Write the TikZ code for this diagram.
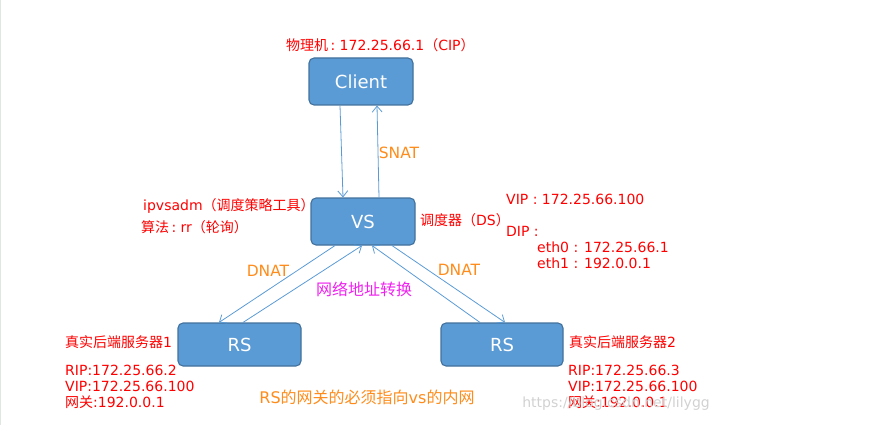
\documentclass[tikz,border=0pt]{standalone}
\usepackage{fontspec}
\setmainfont{DejaVu Sans}
\newfontfamily\cj{Noto Sans CJK SC}
\usetikzlibrary{arrows.meta}
\definecolor{boxfill}{HTML}{5B9BD5}
\definecolor{boxline}{HTML}{41719C}
\definecolor{lnk}{HTML}{5B9BD5}
\definecolor{redt}{HTML}{FF0000}
\definecolor{oranget}{HTML}{FF8C1A}
\definecolor{magt}{HTML}{EE22EE}
\tikzset{
  server/.style={draw=boxline, fill=boxfill, line width=1.1pt, rounded corners=5pt,
    text=white, font=\fontsize{18}{20}\selectfont, inner sep=0pt},
  link/.style={draw=lnk, line width=0.8pt, -{Straight Barb[length=6pt,width=10pt,line width=0.8pt]}},
  redlbl/.style={text=redt, font=\fontsize{14}{16}\selectfont, anchor=base west, inner sep=0pt},
  orglbl/.style={text=oranget, font=\fontsize{15.5}{17}\selectfont, inner sep=0pt},
  maglbl/.style={text=magt, font=\fontsize{16}{18}\selectfont, inner sep=0pt},
  wmark/.style={text=black!18, font=\fontsize{14}{16}\selectfont, inner sep=0pt}
}
\begin{document}
\begin{tikzpicture}[x=1pt,y=-1pt]
\useasboundingbox (0,0) rectangle (877,425);
\draw[draw=green!20!black!12, line width=1pt] (0.5,0) -- (0.5,425);

% boxes
\node[server, minimum width=104pt, minimum height=47pt] (client) at (361,81.5) {Client};
\node[server, minimum width=104pt, minimum height=47pt] (vs) at (363,221.5) {VS};
\node[server, minimum width=123pt, minimum height=43pt] (rs1) at (239.5,344.5) {RS};
\node[server, minimum width=122pt, minimum height=43pt] (rs2) at (502,344.5) {RS};

% connectors
\draw[link] ([xshift=-21pt]client.south) -- ([xshift=-20pt]vs.north);
\draw[link] ([xshift=16pt]vs.north) -- ([xshift=16pt]client.south);
\draw[link] ([xshift=-28pt]vs.south) -- ([xshift=-20.5pt]rs1.north);
\draw[link] ([xshift=3.5pt]rs1.north) -- ([xshift=-1pt]vs.south);
\draw[link] ([xshift=-22pt]rs2.north) -- ([xshift=9pt]vs.south);
\draw[link] ([xshift=29pt]vs.south) -- ([xshift=3pt]rs2.north);

% red labels
\node[redlbl] (cip) at (286,51) {{\cj 物理机}\,:\ 172.25.66.1{\cj （}CIP{\cj ）}};
\node[redlbl] (ipvs) at (143,210) {ipvsadm{\cj （调度策略工具）}};
\node[redlbl] (algo) at (141,232) {{\cj 算法}\,:\ rr{\cj （轮询）}};
\node[redlbl] (ds) at (420,225) {{\cj 调度器（}DS{\cj ）}};
\node[redlbl] (vip) at (506,204) {VIP : 172.25.66.100};
\node[redlbl] (dip) at (506,236) {DIP :};
\node[redlbl] (eth0) at (537,252) {eth0 : 172.25.66.1};
\node[redlbl] (eth1) at (537,268) {eth1 : 192.0.0.1};

\node[redlbl] (rs1t) at (65,347) {{\cj 真实后端服务器}1};
\node[redlbl] (rs1a) at (65,375) {RIP:172.25.66.2};
\node[redlbl] (rs1b) at (65,391) {VIP:172.25.66.100};
\node[redlbl] (rs1c) at (65,407) {{\cj 网关}:192.0.0.1};

\node[redlbl] (rs2t) at (569,347) {{\cj 真实后端服务器}2};
\node[redlbl] (rs2a) at (568,375) {RIP:172.25.66.3};
\node[redlbl] (rs2b) at (568,391) {VIP:172.25.66.100};
\node[redlbl] (rs2c) at (568,407) {{\cj 网关}:192.0.0.1};

% orange / magenta labels
\node[orglbl] (snat) at (399,153) {SNAT};
\node[orglbl] (dnat1) at (268,271) {DNAT};
\node[orglbl] (dnat2) at (459,270) {DNAT};
\node[maglbl] (nat) at (364,289) {\cj 网络地址转换};
\node[orglbl, font=\fontsize{16}{18}\selectfont] (note) at (367,397) {RS{\cj 的网关的必须指向}vs{\cj 的内网}};

\node[wmark] (wm) at (616,404) {https://blog.csdn.net/lilygg};
\end{tikzpicture}
\end{document}
